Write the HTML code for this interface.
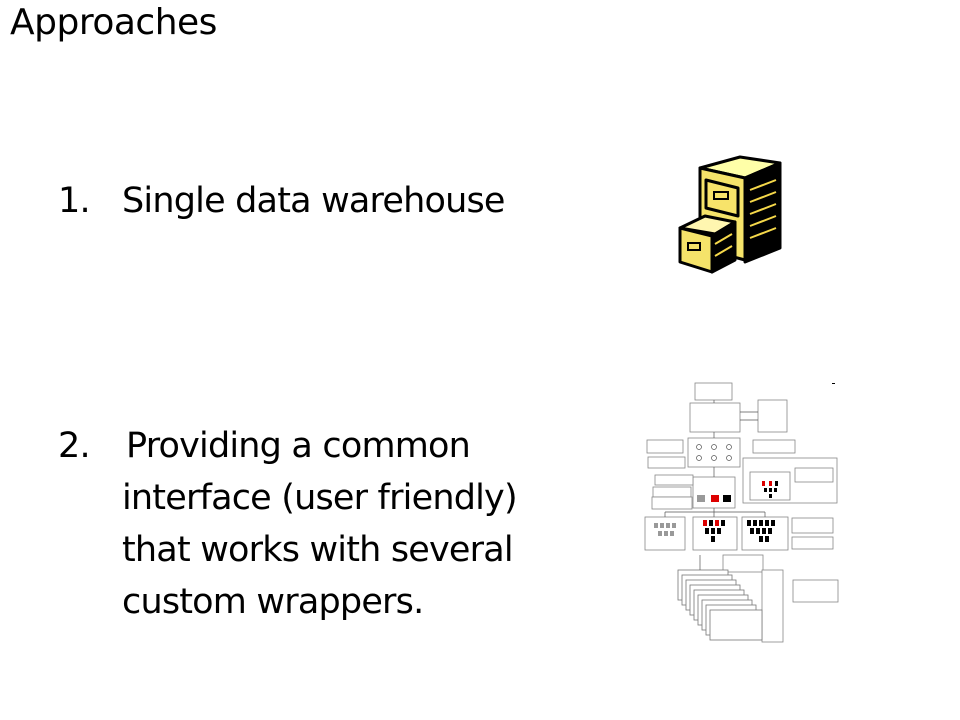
<!DOCTYPE html>
<html><head><meta charset="utf-8"><style>
html,body{margin:0;padding:0;background:#fff;}
body{width:960px;height:720px;position:relative;overflow:hidden;font-family:"DejaVu Sans","Liberation Sans",sans-serif;color:#000;}
.t{position:absolute;white-space:nowrap;font-size:35px;letter-spacing:-0.8px;}
</style></head><body>
<div class="t" style="left:10px;top:2px;font-size:36px;letter-spacing:-0.5px;">Approaches</div>
<div class="t" style="left:58px;top:181px;">1.</div>
<div class="t" style="left:122px;top:181px;">Single data warehouse</div>
<div class="t" style="left:58px;top:426px;">2.</div>
<div class="t" style="left:126px;top:426px;">Providing a common</div>
<div class="t" style="left:122px;top:478px;">interface (user friendly)</div>
<div class="t" style="left:122px;top:530px;">that works with several</div>
<div class="t" style="left:122px;top:582px;">custom wrappers.</div>

<svg width="960" height="720" style="position:absolute;left:0;top:0" >
<g stroke="#000" stroke-width="3" stroke-linejoin="round">
<polygon points="700,168 740,157 780,163 745,178" fill="#ffffa8"/>
<polygon points="700,168 745,178 745,260 700,248" fill="#f5e36a"/>
<polygon points="745,178 780,163 780,248 745,262" fill="#000"/>
<polygon points="706,180 738,188 738,216 706,208" fill="#f7e36a"/>
<polygon points="680,228 715,234 735,222 705,216" fill="#fff6b0"/>
<polygon points="680,228 712,236 712,272 680,262" fill="#f5e36a"/>
<polygon points="712,236 735,222 735,260 712,272" fill="#000"/>
</g>
<g stroke="#f5d84a" stroke-width="2">
<line x1="750" y1="190" x2="776" y2="180"/><line x1="750" y1="202" x2="776" y2="192"/>
<line x1="750" y1="214" x2="776" y2="204"/><line x1="750" y1="226" x2="776" y2="216"/>
<line x1="750" y1="238" x2="776" y2="228"/><line x1="715" y1="244" x2="732" y2="234"/>
<line x1="715" y1="256" x2="732" y2="246"/>
</g>
<rect x="714" y="192" width="14" height="7" fill="none" stroke="#000" stroke-width="2"/>
<rect x="688" y="243" width="12" height="7" fill="none" stroke="#000" stroke-width="2"/>

<g fill="#fff" stroke="#888" stroke-width="0.8">
<rect x="695" y="383" width="37" height="17"/>
<rect x="690" y="403" width="50" height="29"/>
<rect x="758" y="400" width="29" height="32"/>
<rect x="688" y="438" width="52" height="29"/>
<rect x="647" y="440" width="36" height="13"/>
<rect x="648" y="457" width="37" height="11"/>
<rect x="753" y="440" width="42" height="13"/>
<rect x="743" y="458" width="94" height="45"/>
<rect x="750" y="472" width="40" height="28"/>
<rect x="795" y="468" width="38" height="14"/>
<rect x="693" y="477" width="42" height="31"/>
<rect x="655" y="475" width="38" height="10"/>
<rect x="653" y="487" width="38" height="10"/>
<rect x="652" y="497" width="40" height="12"/>
<rect x="645" y="517" width="40" height="33"/>
<rect x="693" y="517" width="44" height="33"/>
<rect x="742" y="517" width="46" height="33"/>
<rect x="792" y="518" width="41" height="15"/>
<rect x="792" y="537" width="41" height="12"/>
<rect x="723" y="555" width="40" height="17"/>
<rect x="762" y="570" width="21" height="72"/>
<rect x="793" y="580" width="45" height="22"/>
</g>
<g fill="#fff" stroke="#777" stroke-width="0.8">
<rect x="678" y="570" width="50" height="30"/><rect x="682" y="575" width="50" height="30"/>
<rect x="686" y="580" width="50" height="30"/><rect x="690" y="585" width="50" height="30"/>
<rect x="694" y="590" width="50" height="30"/><rect x="698" y="595" width="50" height="30"/>
<rect x="702" y="600" width="50" height="30"/><rect x="706" y="605" width="50" height="30"/>
<rect x="710" y="610" width="52" height="30"/>
</g>
<g stroke="#555" stroke-width="0.7" fill="none">
<line x1="714" y1="400" x2="714" y2="403"/><line x1="740" y1="412" x2="758" y2="412"/>
<line x1="740" y1="420" x2="758" y2="420"/><line x1="714" y1="432" x2="714" y2="438"/>
<line x1="714" y1="467" x2="714" y2="477"/><line x1="714" y1="508" x2="714" y2="517"/>
<line x1="665" y1="512" x2="765" y2="512"/><line x1="665" y1="512" x2="665" y2="517"/>
<line x1="765" y1="512" x2="765" y2="517"/><line x1="700" y1="555" x2="700" y2="570"/>
<circle cx="699" cy="447" r="2.5"/><circle cx="714" cy="447" r="2.5"/><circle cx="729" cy="447" r="2.5"/>
<circle cx="699" cy="458" r="2.5"/><circle cx="714" cy="458" r="2.5"/><circle cx="729" cy="458" r="2.5"/>
</g>
<g fill="#999"><rect x="654" y="523" width="4" height="5"/><rect x="660" y="523" width="4" height="5"/><rect x="666" y="523" width="4" height="5"/><rect x="672" y="523" width="4" height="5"/><rect x="658" y="531" width="4" height="5"/><rect x="664" y="531" width="4" height="5"/><rect x="670" y="531" width="4" height="5"/><rect x="697" y="495" width="8" height="7"/></g>
<g fill="#d00"><rect x="703" y="520" width="4" height="6"/><rect x="715" y="520" width="4" height="6"/><rect x="711" y="495" width="8" height="7"/><rect x="762" y="481" width="3" height="5"/><rect x="769" y="481" width="3" height="5"/></g>
<g fill="#000"><rect x="709" y="520" width="4" height="6"/><rect x="721" y="520" width="4" height="6"/><rect x="705" y="528" width="4" height="6"/><rect x="711" y="528" width="4" height="6"/><rect x="717" y="528" width="4" height="6"/><rect x="711" y="536" width="4" height="6"/><rect x="723" y="495" width="8" height="7"/>
<rect x="747" y="520" width="4" height="6"/><rect x="753" y="520" width="4" height="6"/><rect x="759" y="520" width="4" height="6"/><rect x="765" y="520" width="4" height="6"/><rect x="771" y="520" width="4" height="6"/>
<rect x="750" y="528" width="4" height="6"/><rect x="756" y="528" width="4" height="6"/><rect x="762" y="528" width="4" height="6"/><rect x="768" y="528" width="4" height="6"/><rect x="759" y="536" width="4" height="6"/><rect x="765" y="536" width="4" height="6"/>
<rect x="775" y="481" width="3" height="5"/><rect x="764" y="488" width="3" height="4"/><rect x="769" y="488" width="3" height="4"/><rect x="774" y="488" width="3" height="4"/><rect x="769" y="494" width="3" height="4"/>
<rect x="832" y="383" width="3" height="1"/></g>
</svg>
</body></html>
